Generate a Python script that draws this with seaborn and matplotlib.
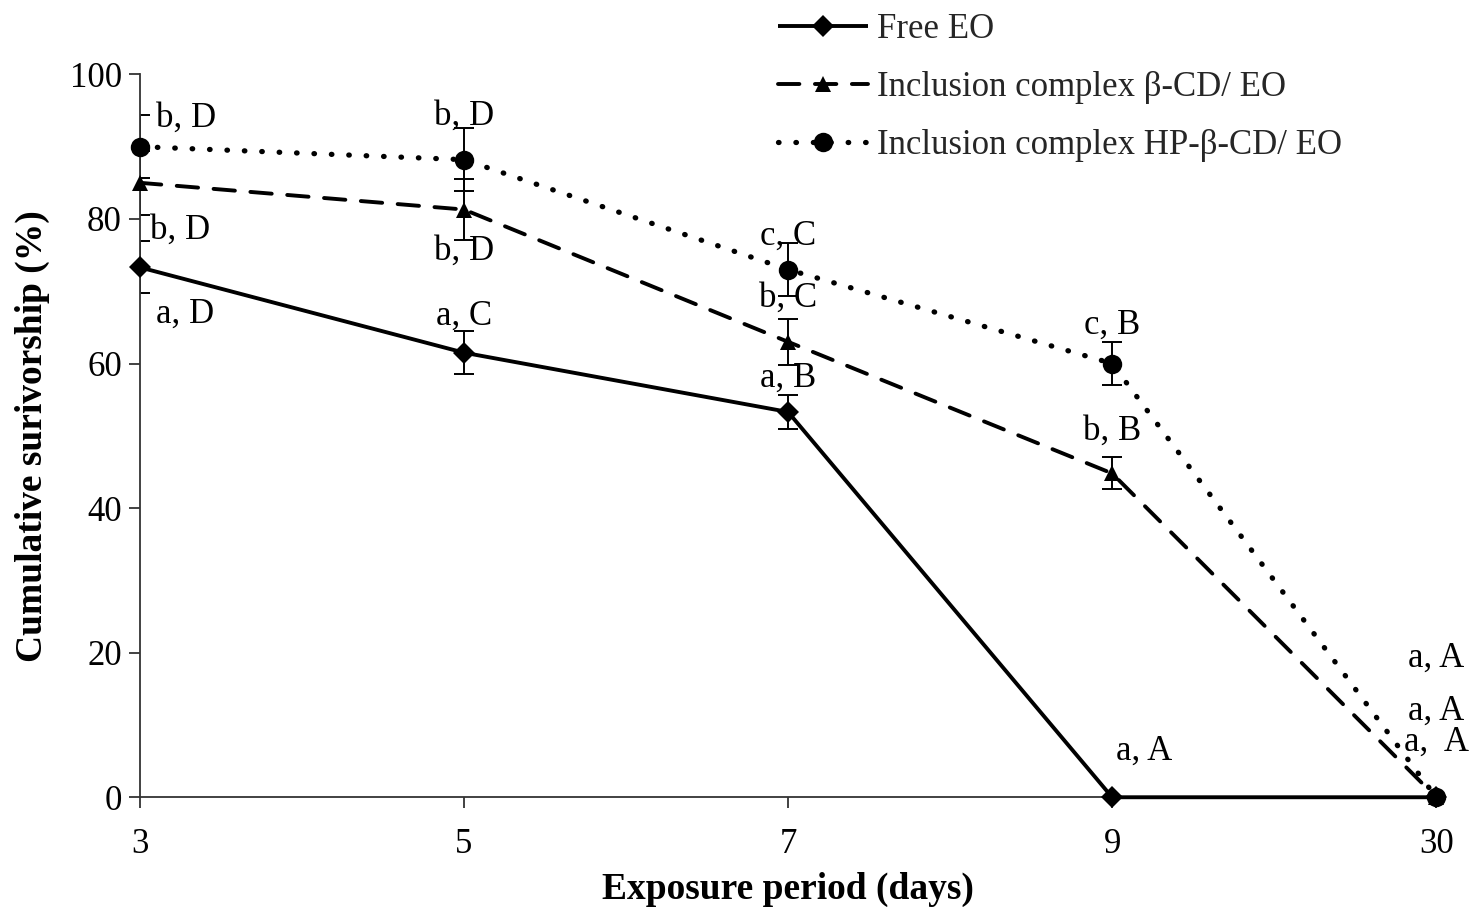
import numpy as np
import pandas as pd
import matplotlib
matplotlib.use("Agg")
import matplotlib.pyplot as plt
import seaborn as sns

# data
days = ["3", "5", "7", "9", "30"]
free_eo = [73.3, 61.5, 53.3, 0, 0]
free_eo_err = [3.6, 3.0, 2.4, 0, 0]
beta_cd = [85.0, 81.3, 63.0, 44.8, 0]
beta_cd_err = [4.4, 4.2, 3.2, 2.2, 0]
hp_beta_cd = [90.0, 88.2, 73.0, 60.0, 0]
hp_beta_cd_err = [4.4, 4.4, 3.7, 3.0, 0]

# letters (label, x index, y in data units, ha)
letters_free = [("a, D", 0.05, 66.8, "left"), ("a, C", 1, 66.5, "center"),
                ("a, B", 2, 58.0, "center"), ("a, A", 3.1, 6.4, "center"),
                ("a,  A", 4, 7.6, "center")]
letters_beta = [("b, D", 0.03, 78.4, "left"), ("b, D", 1, 75.5, "center"),
                ("b, C", 2, 69.0, "center"), ("b, B", 3, 50.7, "center"),
                ("a, A", 4, 11.9, "center")]
letters_hp = [("b, D", 0.05, 94.0, "left"), ("b, D", 1, 94.2, "center"),
              ("c, C", 2, 77.6, "center"), ("c, B", 3, 65.3, "center"),
              ("a, A", 4.0, 19.2, "center")]

sns.set_theme(style="ticks")
plt.rcParams['font.family'] = ['Liberation Serif', 'DejaVu Serif']

fig = plt.figure(figsize=(14.73, 9.07), dpi=100)
ax = fig.add_axes([0.095, 0.121, 0.88, 0.797])

x = np.arange(len(days))
df = pd.DataFrame({"pos": x, "free": free_eo, "beta": beta_cd, "hp": hp_beta_cd})

series = [
    ("free", free_eo_err, "Free EO", "-", "D", 11, 2.8),
    ("beta", beta_cd_err, "Inclusion complex β-CD/ EO", (0, (5.5, 4)), "^", 12, 2.8),
    ("hp", hp_beta_cd_err, "Inclusion complex HP-β-CD/ EO", (0, (0.1, 3.2)), "o", 14, 3.8),
]

for col, err, label, ls, mk, ms, lw in series:
    sns.lineplot(data=df, x="pos", y=col, ax=ax, color="black", linewidth=lw,
                 linestyle=ls, marker=mk, markersize=ms, markeredgewidth=0,
                 dash_capstyle="round", solid_capstyle="butt", label=label,
                 legend=False, zorder=3, clip_on=False)
    ax.errorbar(df["pos"], df[col], yerr=err, fmt="none", ecolor="black",
                elinewidth=1.4, capsize=7.5, capthick=1.4, zorder=2)

names = [s[2] for s in series]
lines = [l for l in ax.get_lines() if l.get_label() in names]

for group in (letters_free, letters_beta, letters_hp):
    for txt, xi, yv, ha in group:
        ax.text(xi, yv, txt, ha=ha, va="center", fontsize=25, color="black")

ax.set_xlim(0, 4)
ax.set_ylim(0, 100)
ax.set_xticks(x)
ax.set_xticklabels(days)
ax.set_yticks([0, 20, 40, 60, 80, 100])
ax.tick_params(axis="both", labelsize=25, length=8, width=1.3, color="#333333",
               labelcolor="black", direction="out", pad=5)
ax.tick_params(axis="x", pad=14)
for side in ("top", "right"):
    ax.spines[side].set_visible(False)
for side in ("left", "bottom"):
    ax.spines[side].set_linewidth(1.3)
    ax.spines[side].set_color("#333333")

ax.set_xlabel("Exposure period (days)", fontsize=27, fontweight="bold", labelpad=8,
              color="black")
ax.set_ylabel("Cumulative surivorship (%)", fontsize=27, fontweight="bold", labelpad=14,
              color="black")

fig.legend(handles=lines, loc="upper left", bbox_to_anchor=(0.507, 1.02),
           frameon=False, fontsize=25, handlelength=2.6, handletextpad=0.26,
           labelspacing=0.72)

plt.savefig("out.png", dpi=100)
